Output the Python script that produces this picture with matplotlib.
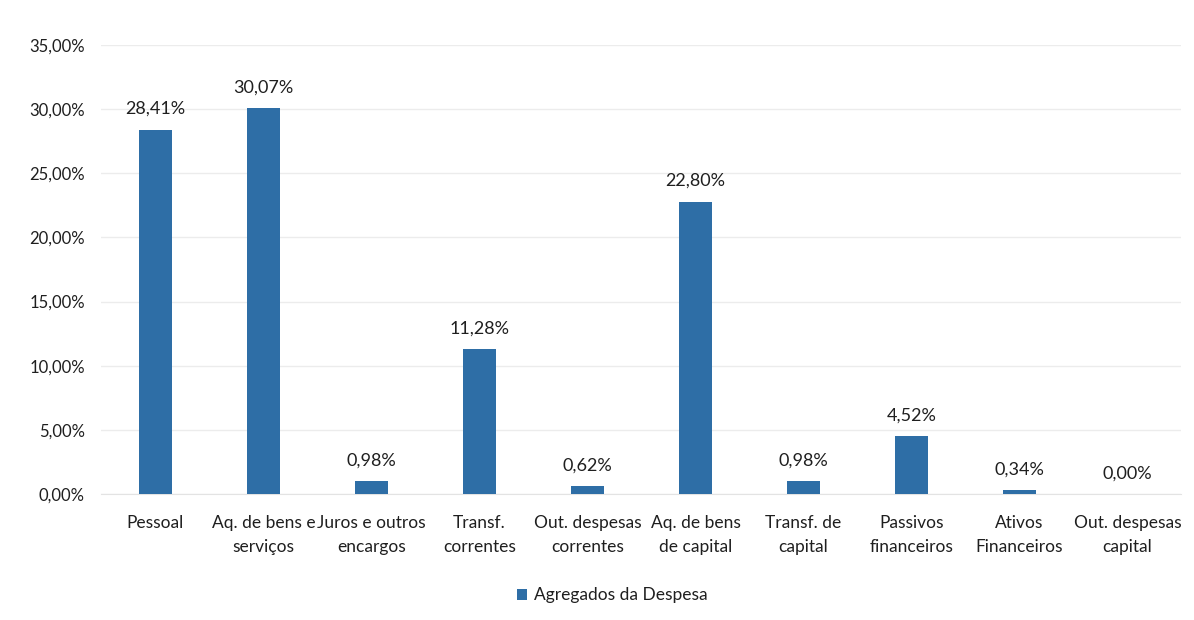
import numpy as np
import matplotlib.pyplot as plt
from matplotlib.ticker import FuncFormatter

categories = [
    "Pessoal",
    "Aq. de bens e\nserviços",
    "Juros e outros\nencargos",
    "Transf.\ncorrentes",
    "Out. despesas\ncorrentes",
    "Aq. de bens\nde capital",
    "Transf. de\ncapital",
    "Passivos\nfinanceiros",
    "Ativos\nFinanceiros",
    "Out. despesas\ncapital",
]
values = [28.41, 30.07, 0.98, 11.28, 0.62, 22.80, 0.98, 4.52, 0.34, 0.00]
series_name = "Agregados da Despesa"
yticks = [0, 5, 10, 15, 20, 25, 30, 35]

BAR_COLOR = "#2e6ea6"
TEXT_COLOR = "#1f1f1f"

plt.rcParams["font.family"] = ["Lato", "DejaVu Sans"]


def pct(v):
    return f"{v:.2f}".replace(".", ",") + "%"


def plot_bars(save_path="out.png"):
    fig = plt.figure(figsize=(11.94, 6.2), dpi=100)
    ax = fig.add_axes([0.085, 0.2032, 0.9045, 0.7242])

    x = np.arange(len(categories))
    bars = ax.bar(x, values, width=0.31, color=BAR_COLOR, label=series_name, zorder=3)

    for rect, v in zip(bars, values):
        ax.annotate(pct(v), (rect.get_x() + rect.get_width() / 2, v),
                    xytext=(0, 9), textcoords="offset points",
                    ha="center", va="bottom", fontsize=13, color=TEXT_COLOR)

    ax.set_xlim(-0.5, len(categories) - 0.5)
    ax.set_ylim(0, 35)
    ax.set_yticks(yticks)
    ax.yaxis.set_major_formatter(FuncFormatter(lambda v, _: pct(v)))
    ax.set_xticks(x)
    ax.set_xticklabels(categories, fontsize=12.5, color=TEXT_COLOR, linespacing=1.65)
    ax.tick_params(axis="y", labelsize=12, labelcolor=TEXT_COLOR, length=0, pad=12)
    ax.tick_params(axis="x", length=0, pad=15)

    ax.grid(axis="y", color="#ececec", linewidth=1, zorder=0)
    for side in ["top", "right", "left"]:
        ax.spines[side].set_visible(False)
    ax.spines["bottom"].set_color("#e3e3e3")

    fig.legend(loc="center", bbox_to_anchor=(0.513, 0.04), frameon=False,
               fontsize=12.5, handlelength=0.6, handleheight=0.6,
               handletextpad=0.4, labelcolor=TEXT_COLOR)

    fig.savefig(save_path, dpi=100, facecolor="white")


if __name__ == "__main__":
    plot_bars()
